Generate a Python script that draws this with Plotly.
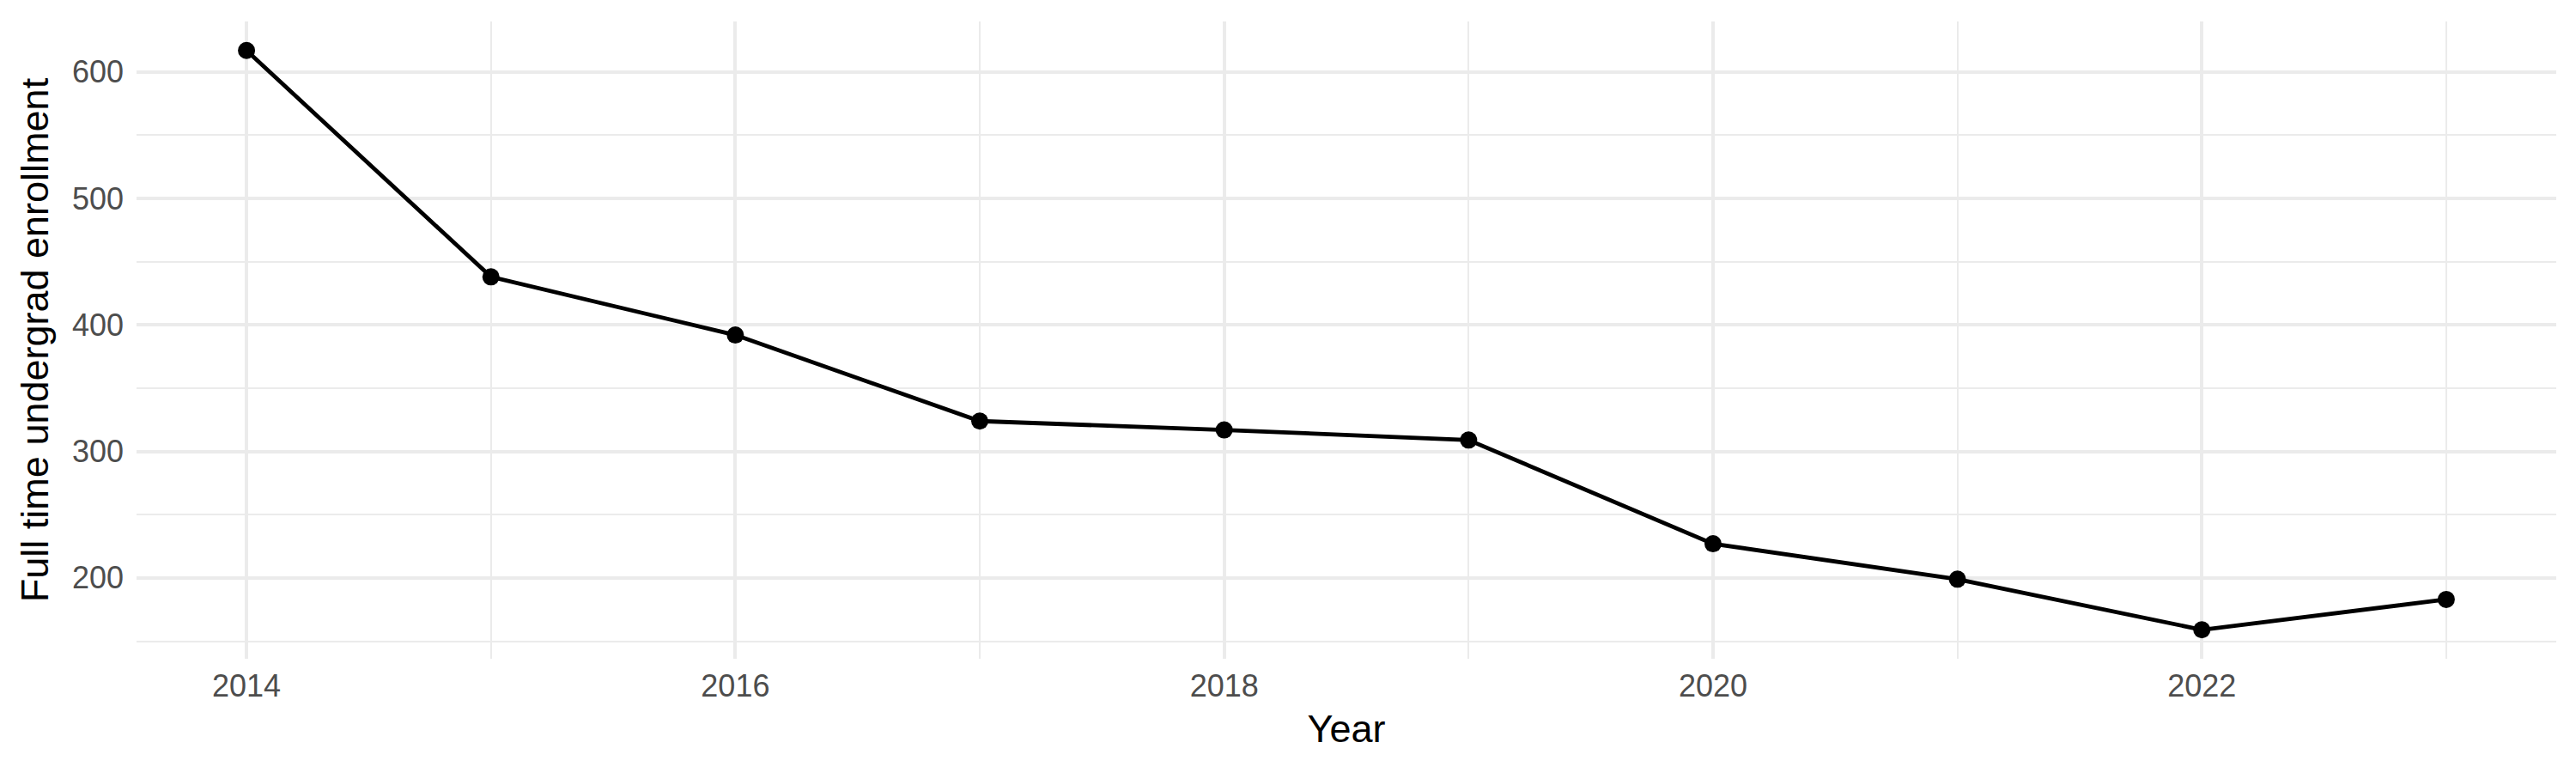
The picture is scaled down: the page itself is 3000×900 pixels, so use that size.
import plotly.graph_objects as go

# Full time undergrad enrollment by year
years = [2014, 2015, 2016, 2017, 2018, 2019, 2020, 2021, 2022, 2023]
enrollment = [617, 438, 392, 324, 317, 309, 227, 199, 159, 183]

x_ticks = [2014, 2016, 2018, 2020, 2022]
y_ticks = [200, 300, 400, 500, 600]

font_family = "Liberation Sans, Arial, sans-serif"
grid_col = "#EBEBEB"

fig = go.Figure()

fig.add_trace(go.Scatter(
    x=years, y=enrollment, mode="lines+markers",
    line=dict(color="black", width=4.8),
    marker=dict(color="black", size=20),
    showlegend=False,
))

# ggplot-style 5% expansion
y_pad = (max(enrollment) - min(enrollment)) * 0.05
x_pad = (max(years) - min(years)) * 0.05

# margins allow for the 8px page body offset
fig.update_layout(
    width=3000, height=900,
    margin=dict(l=151, r=31, t=17, b=141),
    plot_bgcolor="white", paper_bgcolor="white",
    font=dict(family=font_family, color="black"),
    xaxis=dict(
        range=[min(years) - x_pad, max(years) + x_pad],
        tickvals=x_ticks,
        showgrid=True, gridcolor=grid_col, gridwidth=4,
        minor=dict(dtick=1, tick0=2013, showgrid=True, gridcolor=grid_col, gridwidth=2),
        zeroline=False, showline=False, ticks="",
        tickfont=dict(size=36, color="#4D4D4D"),
        ticklabelstandoff=7,
        title=dict(text="Year", font=dict(size=45, color="black"), standoff=14),
        automargin=False,
    ),
    yaxis=dict(
        range=[min(enrollment) - y_pad, max(enrollment) + y_pad],
        tickvals=y_ticks,
        showgrid=True, gridcolor=grid_col, gridwidth=4,
        minor=dict(dtick=50, tick0=150, showgrid=True, gridcolor=grid_col, gridwidth=2),
        zeroline=False, showline=False, ticks="",
        tickfont=dict(size=36, color="#4D4D4D"),
        ticklabelstandoff=14,
        title=dict(text="Full time undergrad enrollment", font=dict(size=45, color="black"), standoff=13),
        automargin=False,
    ),
)

fig.write_html("out.html")
